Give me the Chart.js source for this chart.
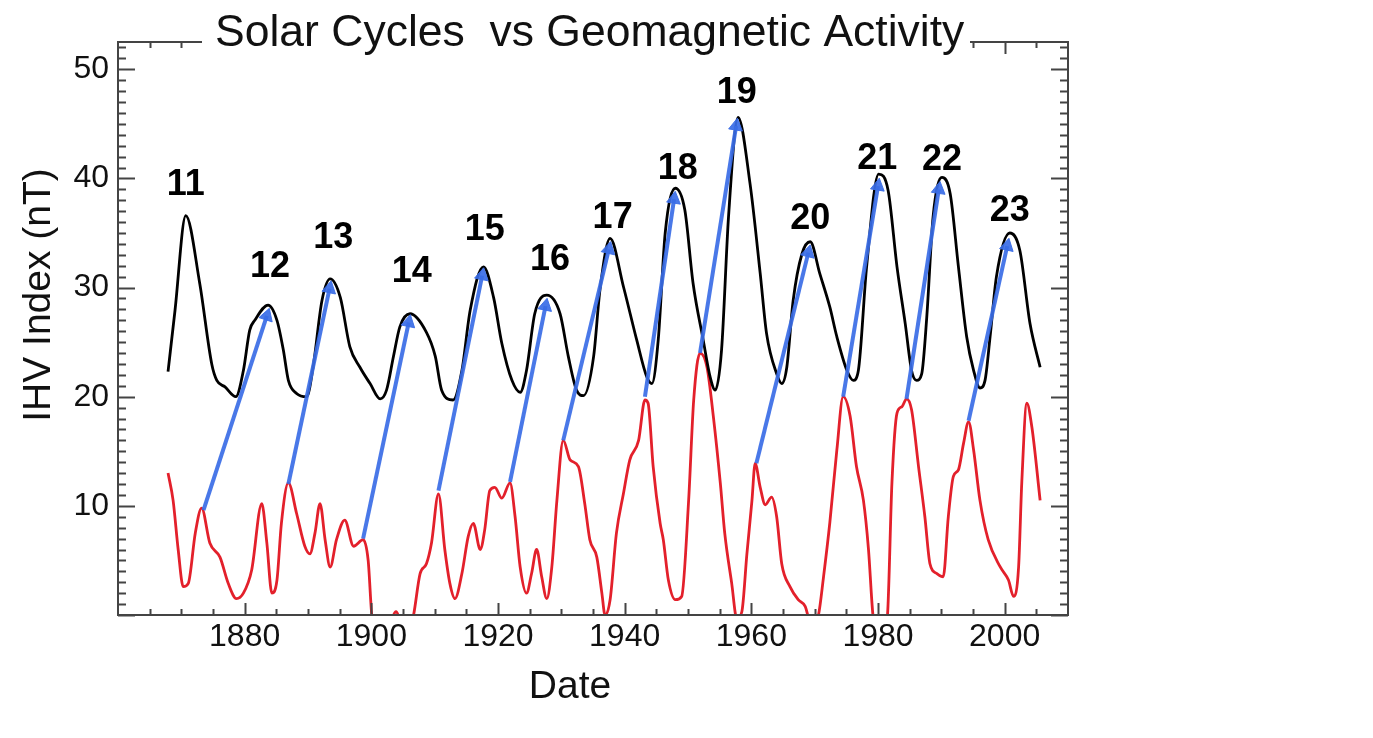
<!DOCTYPE html>
<html>
<head>
<meta charset="utf-8">
<title>Solar Cycles vs Geomagnetic Activity</title>
<script src="https://cdn.jsdelivr.net/npm/chart.js@4.4.1/dist/chart.umd.min.js"></script>
<style>
  html, body { margin: 0; padding: 0; background: #fff; }
  #grafico { display: block; }
</style>
</head>
<body>
<canvas id="grafico" width="1373" height="738"></canvas>
<script>
// IHV index (black curve)
const ihvYears = [1867.9, 1869.0, 1870.7, 1872.9, 1874.8, 1875.6, 1876.9, 1878.6, 1879.8, 1880.8,
  1881.6, 1883.7, 1885.1, 1886.1, 1886.9, 1888.2, 1889.8, 1890.8, 1892.2, 1893.5,
  1895.1, 1896.6, 1898.2, 1899.8, 1901.4, 1902.4, 1903.5, 1904.5, 1906.1, 1908.7,
  1910.1, 1911.1, 1912.9, 1914.3, 1915.6, 1917.7, 1919.3, 1920.6, 1922.2, 1923.5,
  1924.5, 1925.8, 1927.7, 1929.8, 1931.1, 1932.4, 1933.5, 1935.1, 1936.1, 1937.7,
  1939.8, 1941.9, 1943.5, 1944.3, 1945.3, 1946.4, 1948.0, 1949.5, 1950.8, 1952.4,
  1953.5, 1954.3, 1955.3, 1956.4, 1957.9, 1959.8, 1961.4, 1962.4, 1964.0, 1964.8,
  1965.6, 1966.6, 1968.0, 1969.3, 1970.8, 1972.4, 1973.5, 1975.1, 1976.1, 1976.9,
  1978.2, 1980.1, 1981.6, 1983.0, 1984.3, 1985.3, 1986.1, 1986.9, 1987.7, 1988.7,
  1990.1, 1991.4, 1992.7, 1994.0, 1995.1, 1996.1, 1996.9, 1997.7, 1998.7, 2000.8,
  2002.4, 2004.0, 2005.6];
const ihvValues = [22.3, 27.9, 36.6, 30.4, 23.0, 21.5, 20.9, 20.0, 22.4, 26.1,
  27.0, 28.4, 27.0, 24.3, 21.5, 20.3, 20.0, 22.7, 28.8, 30.8,
  29.1, 24.6, 22.7, 21.2, 19.8, 20.6, 23.7, 26.4, 27.6, 25.9,
  23.7, 20.6, 19.7, 22.4, 27.9, 31.9, 29.1, 24.9, 21.5, 20.4,
  22.4, 27.6, 29.3, 27.6, 23.7, 20.6, 20.1, 23.7, 29.8, 34.5,
  30.1, 25.2, 21.8, 21.2, 25.2, 35.0, 39.1, 37.1, 30.4, 25.2,
  21.8, 20.6, 24.3, 36.5, 45.6, 39.5, 31.3, 25.8, 22.1, 21.2,
  22.7, 28.8, 33.1, 34.2, 31.3, 28.2, 25.5, 22.4, 21.5, 22.4,
  31.9, 40.4, 38.9, 31.9, 26.7, 22.4, 21.5, 22.1, 27.3, 36.5,
  40.1, 38.6, 31.9, 25.5, 22.4, 20.8, 21.5, 25.5, 31.0, 35.0,
  33.4, 26.7, 22.7];

// red curve
const redYears = [1867.9, 1868.7, 1869.5, 1870.3, 1871.1, 1872.2, 1873.2, 1874.5, 1876.1, 1877.4,
  1878.7, 1879.8, 1881.1, 1882.7, 1883.5, 1884.3, 1885.1, 1885.8, 1886.9, 1888.2,
  1889.5, 1890.3, 1891.1, 1891.9, 1892.7, 1893.5, 1894.5, 1895.8, 1897.2, 1898.7,
  1899.5, 1900.1, 1901.8, 1903.9, 1905.3, 1906.6, 1907.7, 1908.7, 1909.5, 1910.6,
  1911.6, 1912.4, 1913.2, 1914.3, 1915.3, 1916.1, 1917.2, 1917.9, 1918.7, 1919.5,
  1920.6, 1921.9, 1922.7, 1923.5, 1924.5, 1925.3, 1926.1, 1926.9, 1927.7, 1928.5,
  1929.3, 1930.3, 1931.4, 1932.7, 1933.7, 1934.5, 1935.6, 1936.4, 1936.9, 1937.7,
  1938.7, 1939.8, 1940.8, 1942.2, 1943.2, 1943.7, 1944.5, 1945.6, 1946.1, 1946.9,
  1948.0, 1949.0, 1950.1, 1950.9, 1951.9, 1953.0, 1954.0, 1955.1, 1955.8, 1956.9,
  1957.7, 1958.5, 1959.3, 1960.1, 1960.6, 1961.4, 1962.2, 1963.2, 1964.0, 1964.8,
  1966.1, 1967.4, 1968.5, 1969.5, 1970.6, 1971.4, 1972.4, 1973.5, 1974.5, 1975.6,
  1976.6, 1977.7, 1978.5, 1979.2, 1980.3, 1981.5, 1982.2, 1983.0, 1983.8, 1984.5,
  1985.3, 1986.4, 1987.4, 1988.2, 1989.3, 1990.3, 1991.1, 1991.9, 1992.7, 1993.5,
  1994.3, 1995.1, 1996.1, 1997.4, 1999.3, 2000.6, 2001.4, 2002.2, 2002.7, 2003.5,
  2004.3, 2005.6];
const redValues = [13.0, 10.5, 6.0, 2.6, 2.9, 7.5, 9.8, 6.6, 5.3, 2.9,
  1.5, 2.0, 4.1, 10.2, 6.6, 2.0, 3.2, 8.4, 12.1, 9.3,
  6.3, 5.6, 7.5, 10.2, 6.9, 4.4, 6.9, 8.7, 6.3, 6.9,
  5.0, -0.2, -3.0, 0.3, -2.0, -0.2, 3.8, 4.7, 6.6, 11.1,
  6.0, 2.9, 1.5, 3.8, 7.2, 8.4, 6.0, 7.8, 11.4, 11.7,
  10.7, 12.1, 9.0, 4.4, 2.0, 3.8, 6.0, 3.5, 1.5, 4.4,
  10.5, 16.0, 14.2, 13.6, 10.2, 6.9, 5.3, 2.0, 0.0, 1.4,
  7.5, 11.1, 14.2, 16.0, 19.7, 19.4, 13.6, 8.4, 6.9, 3.2,
  1.4, 1.7, 10.5, 19.7, 24.0, 22.7, 18.2, 12.1, 7.5, 2.9,
  -0.3, 0.3, 5.6, 10.5, 13.9, 11.7, 10.1, 10.8, 9.0, 4.7,
  2.6, 1.4, 0.8, -1.0, 0.0, 3.5, 8.5, 15.1, 20.0, 18.2,
  13.6, 10.5, 6.0, 0.0, -3.0, 0.0, 12.1, 18.5, 19.1, 19.8,
  18.8, 13.6, 9.0, 4.7, 3.8, 3.5, 9.0, 12.7, 13.3, 15.7,
  17.7, 15.1, 10.5, 6.9, 4.4, 3.2, 1.7, 4.4, 12.1, 19.4,
  17.2, 10.5];

// blue arrows: from the red curve up to the next peak
const arrowStartYears = [1873.5, 1886.9, 1898.7, 1910.6, 1921.9, 1930.3, 1943.2, 1951.9, 1960.8, 1974.5, 1984.5, 1994.3];
const arrowStartValues = [9.6, 12.0, 7.0, 11.4, 12.2, 16.0, 20.0, 24.0, 13.9, 20.0, 19.8, 17.8];
const arrowEndYears = [1883.5, 1893.4, 1905.9, 1917.5, 1927.5, 1937.5, 1947.8, 1957.6, 1969.0, 1980.0, 1989.6, 2000.4];
const arrowEndValues = [27.4, 29.9, 26.8, 31.1, 28.3, 33.5, 38.1, 44.8, 33.2, 39.3, 39.0, 33.8];

// cycle numbers
const cycleNames = ['11', '12', '13', '14', '15', '16', '17', '18', '19', '20', '21', '22', '23'];
const cycleYears = [1870.7, 1884.0, 1894.0, 1906.4, 1917.9, 1928.2, 1938.1, 1948.4, 1957.7, 1969.3, 1979.9, 1990.1, 2000.8];
const cycleValues = [39.4, 31.9, 34.5, 31.4, 35.3, 32.5, 36.4, 40.9, 47.8, 36.3, 41.8, 41.7, 37.0];

// tick labels
const xTickLabels = [1880, 1900, 1920, 1940, 1960, 1980, 2000];
const yTickLabels = [10, 20, 30, 40, 50];

const FUENTE = "'Liberation Sans', Arial, sans-serif";
const AZUL = 'rgba(58, 108, 230, 0.92)';

function juntar(xs, ys) {
    return xs.map((x, i) => ({x: x, y: ys[i]}));
}

// angle of the arrow head, taken from the scales
function anguloFlecha(ctx) {
    const d = ctx.dataset.data;
    const sx = ctx.chart.scales.x;
    const sy = ctx.chart.scales.y;
    const dx = sx.getPixelForValue(d[1].x) - sx.getPixelForValue(d[0].x);
    const dy = sy.getPixelForValue(d[1].y) - sy.getPixelForValue(d[0].y);
    return Math.atan2(dx, -dy) * 180 / Math.PI;
}

const datasets = [
    {
        label: 'IHV',
        data: juntar(ihvYears, ihvValues),
        borderColor: '#000',
        borderWidth: 2.8,
        pointRadius: 0,
        cubicInterpolationMode: 'monotone',
        order: 2
    },
    {
        label: 'red',
        data: juntar(redYears, redValues),
        borderColor: '#e3202b',
        borderWidth: 2.8,
        pointRadius: 0,
        cubicInterpolationMode: 'monotone',
        order: 3
    }
];

arrowStartYears.forEach((x0, i) => {
    datasets.push({
        label: 'arrow ' + cycleNames[i + 1],
        data: [{x: x0, y: arrowStartValues[i]}, {x: arrowEndYears[i], y: arrowEndValues[i]}],
        borderColor: AZUL,
        borderWidth: 4,
        pointRadius: [0, 8],
        pointStyle: 'triangle',
        pointBackgroundColor: AZUL,
        pointBorderColor: AZUL,
        pointBorderWidth: 1,
        pointRotation: anguloFlecha,
        order: 1
    });
});

// frame, inside ticks, titles and cycle numbers
const marco = {
    id: 'marco',
    afterDraw(chart) {
        const {ctx, chartArea: a, scales: {x, y}} = chart;
        ctx.save();
        ctx.strokeStyle = '#444';
        ctx.lineWidth = 2;

        ctx.beginPath();
        ctx.rect(a.left, a.top, a.right - a.left, a.bottom - a.top);
        ctx.stroke();

        // y ticks every 1, long every 10 (both sides)
        ctx.beginPath();
        for (let v = 0; v <= 52; v++) {
            const py = Math.round(y.getPixelForValue(v)) + 0.5;
            const len = v % 10 === 0 ? 17 : 8;
            ctx.moveTo(a.left, py);
            ctx.lineTo(a.left + len, py);
            ctx.moveTo(a.right, py);
            ctx.lineTo(a.right - len, py);
        }
        // x ticks every 5 years, long every 20 (bottom and top)
        for (let yr = 1865; yr <= 2005; yr += 5) {
            const px = Math.round(x.getPixelForValue(yr)) + 0.5;
            const len = yr % 20 === 0 ? 12 : 6;
            ctx.moveTo(px, a.bottom);
            ctx.lineTo(px, a.bottom - len);
            ctx.moveTo(px, a.top);
            ctx.lineTo(px, a.top + len);
        }
        ctx.stroke();

        // title sits on the top frame line
        ctx.fillStyle = '#fff';
        ctx.fillRect(202, 0, 768, a.top + 16);
        ctx.fillStyle = '#111';
        ctx.font = '44.5px ' + FUENTE;
        ctx.textAlign = 'left';
        ctx.textBaseline = 'alphabetic';
        ctx.fillText('Solar Cycles  vs Geomagnetic Activity', 215, 46);

        // axis titles
        ctx.font = '39px ' + FUENTE;
        ctx.textAlign = 'center';
        ctx.fillText('Date', 570, 698);

        ctx.save();
        ctx.translate(50, 295);
        ctx.rotate(-Math.PI / 2);
        ctx.font = '39px ' + FUENTE;
        ctx.fillText('IHV Index (nT)', 0, 0);
        ctx.restore();

        // cycle numbers
        ctx.font = 'bold 36px ' + FUENTE;
        ctx.textAlign = 'center';
        ctx.textBaseline = 'middle';
        ctx.fillStyle = '#000';
        cycleNames.forEach((t, i) => {
            ctx.fillText(t, x.getPixelForValue(cycleYears[i]), y.getPixelForValue(cycleValues[i]));
        });
        ctx.restore();
    }
};

const chart = new Chart(document.getElementById('grafico'), {
    type: 'line',
    data: {datasets: datasets},
    options: {
        responsive: false,
        animation: false,
        layout: {padding: {left: 0, top: 42, right: 305, bottom: 0}},
        plugins: {legend: {display: false}, tooltip: {enabled: false}},
        scales: {
            x: {
                type: 'linear',
                min: 1860,
                max: 2010,
                afterBuildTicks: (s) => { s.ticks = xTickLabels.map(v => ({value: v})); },
                afterFit: (s) => { s.height = 123; },
                ticks: {
                    color: '#111',
                    font: {family: FUENTE, size: 32},
                    padding: 3,
                    maxRotation: 0,
                    autoSkip: false,
                    callback: (v) => String(v)
                },
                grid: {display: false, drawTicks: false},
                border: {display: false}
            },
            y: {
                type: 'linear',
                min: 0,
                max: 52.5,
                afterBuildTicks: (s) => { s.ticks = yTickLabels.map(v => ({value: v})); },
                afterFit: (s) => { s.width = 118; },
                ticks: {
                    color: '#111',
                    font: {family: FUENTE, size: 32},
                    padding: 9
                },
                grid: {display: false, drawTicks: false},
                border: {display: false}
            }
        }
    },
    plugins: [marco]
});
</script>
</body>
</html>
